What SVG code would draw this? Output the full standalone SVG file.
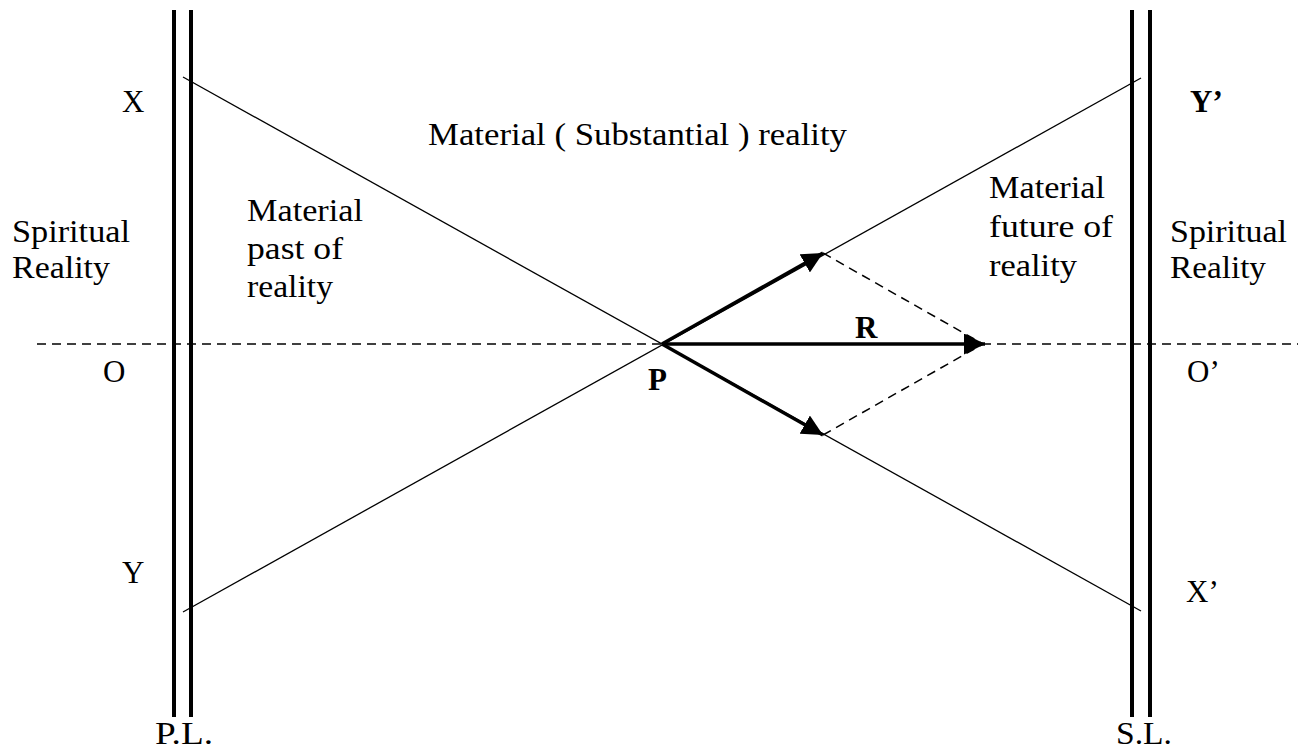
<svg xmlns="http://www.w3.org/2000/svg" width="1298" height="753" viewBox="0 0 1298 753">
<style>
text{font-family:"Liberation Serif","Times New Roman","DejaVu Serif",serif;font-size:31px;fill:#000}
.b{font-weight:bold}
.wall{stroke:#000;stroke-width:4}
.thin{stroke:#000;stroke-width:1.3;fill:none}
.dash{stroke:#000;stroke-width:1.5;stroke-dasharray:9 6;fill:none}
.vec{stroke:#000;stroke-width:3.5;fill:none;marker-end:url(#ah)}
</style>
<defs>
<marker id="ah" viewBox="0 0 10 10" refX="10" refY="5" markerWidth="6" markerHeight="6" markerUnits="strokeWidth" orient="auto">
<path d="M0,0 L10,5 L0,10 z" fill="#000"/>
</marker>
</defs>
<rect width="1298" height="753" fill="#fff"/>
<g id="pl-wall"><line class="wall" x1="174" y1="10" x2="174" y2="717"/><line class="wall" x1="191" y1="10" x2="191" y2="717"/></g>
<g id="sl-wall"><line class="wall" x1="1132" y1="10" x2="1132" y2="717"/><line class="wall" x1="1150" y1="10" x2="1150" y2="717"/></g>
<g id="connectors">
<line class="dash" x1="37" y1="344" x2="1298" y2="344"/>
<line class="thin" x1="183" y1="77" x2="1141" y2="611"/>
<line class="thin" x1="183" y1="612" x2="1141" y2="78"/>
<line class="dash" x1="823" y1="253" x2="983" y2="344"/>
<line class="dash" x1="823" y1="435" x2="983" y2="344"/>
<line class="vec" x1="662" y1="344" x2="823" y2="253"/>
<line class="vec" x1="662" y1="344" x2="823" y2="435"/>
<line class="vec" x1="662" y1="344" x2="985" y2="344"/>
</g>
<g id="labels">
<text x="122" y="112">X</text>
<text x="122" y="583">Y</text>
<text x="103" y="382">O</text>
<text class="b" x="648" y="390">P</text>
<text class="b" x="855" y="338">R</text>
<text class="b" x="1190" y="112">Y’</text>
<text x="1186" y="602">X’</text>
<text x="1187" y="382">O’</text>
<text x="155" y="744" textLength="58" lengthAdjust="spacingAndGlyphs">P.L.</text>
<text x="1116" y="744" textLength="56" lengthAdjust="spacingAndGlyphs">S.L.</text>
<text x="428" y="145" textLength="419" lengthAdjust="spacingAndGlyphs">Material ( Substantial ) reality</text>
</g>
<g id="spiritual-left"><text x="12" y="242" textLength="118" lengthAdjust="spacingAndGlyphs">Spiritual</text><text x="12" y="278" textLength="98" lengthAdjust="spacingAndGlyphs">Reality</text></g>
<g id="past"><text x="247" y="221" textLength="116" lengthAdjust="spacingAndGlyphs">Material</text><text x="247" y="259" textLength="96" lengthAdjust="spacingAndGlyphs">past of</text><text x="247" y="297" textLength="86" lengthAdjust="spacingAndGlyphs">reality</text></g>
<g id="future"><text x="989" y="198" textLength="116" lengthAdjust="spacingAndGlyphs">Material</text><text x="989" y="237" textLength="124" lengthAdjust="spacingAndGlyphs">future of</text><text x="989" y="276" textLength="88" lengthAdjust="spacingAndGlyphs">reality</text></g>
<g id="spiritual-right"><text x="1170" y="242" textLength="117" lengthAdjust="spacingAndGlyphs">Spiritual</text><text x="1170" y="278" textLength="96" lengthAdjust="spacingAndGlyphs">Reality</text></g>
</svg>
